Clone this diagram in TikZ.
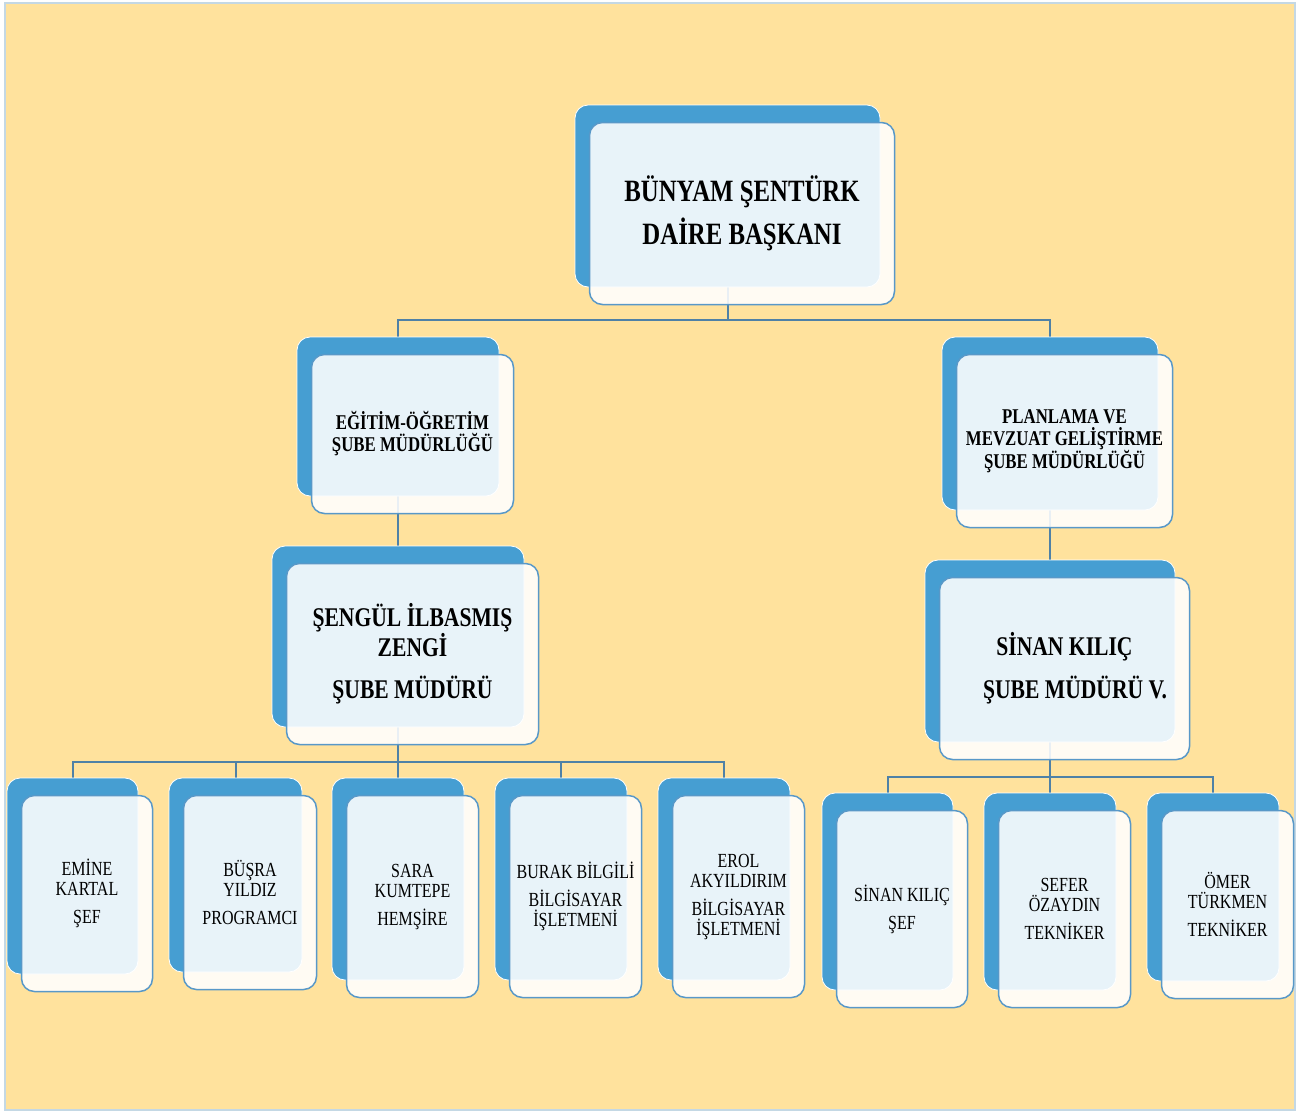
\documentclass[tikz,border=0pt]{standalone}
\usepackage{fontspec}
\setmainfont{Liberation Serif}[FakeStretch=0.8]
\definecolor{paperfill}{RGB}{255,226,157}
\definecolor{paperedge}{RGB}{196,216,228}
\definecolor{boxblue}{RGB}{70,158,210}
\definecolor{frontedge}{RGB}{88,152,200}
\definecolor{wirecol}{RGB}{79,129,166}
\pgfdeclarelayer{paper}
\pgfdeclarelayer{wires}
\pgfsetlayers{paper,wires,main}
\tikzset{
  backbox/.style={rounded corners=13pt, fill=boxblue, draw=white, line width=0.8pt, inner sep=0pt, outer sep=0pt},
  frontbox/.style={rounded corners=13pt, fill=white, fill opacity=0.88, text opacity=1, draw=frontedge, draw opacity=1, line width=1.5pt, inner sep=0pt, outer sep=0pt, align=center, text=black},
  wire/.style={draw=wirecol, line width=2pt},
  topfont/.style={font=\fontsize{31}{43}\selectfont\bfseries},
  midfont/.style={font=\fontsize{21}{22}\selectfont\bfseries},
  bigfont/.style={font=\fontsize{27}{28}\selectfont\bfseries},
  smallfont/.style={font=\fontsize{20}{20}\selectfont}
}
\newcommand\orgbox[7]{%
  \node[backbox, minimum width=#4pt, minimum height=#5pt] (#1) at (#2,#3) {};
  \node[frontbox, minimum width=#4pt, minimum height=#5pt, #6] (#1-f) at ([xshift=14.5pt,yshift=-17.5pt]#1.center) {#7};%
}
\begin{document}
\begin{tikzpicture}[x=1pt,y=-1pt]
\useasboundingbox (0,0) rectangle (1311,1112);
\begin{pgfonlayer}{paper}
  \fill[white] (0,0) rectangle (1311,1112);
  \draw[fill=paperfill, draw=paperedge, line width=1.5pt] (5,3) rectangle (1295,1110);
\end{pgfonlayer}

\orgbox{top}{727.5}{196}{305}{182}{topfont}{BÜNYAM ŞENTÜRK\\DAİRE BAŞKANI}
\orgbox{edu}{398}{416.5}{202}{159}{midfont}{EĞİTİM-ÖĞRETİM\\ŞUBE MÜDÜRLÜĞÜ}
\orgbox{plan}{1050}{423.5}{216}{173}{midfont}{PLANLAMA VE\\MEVZUAT GELİŞTİRME\\ŞUBE MÜDÜRLÜĞÜ}
\orgbox{sengul}{398}{636.5}{252}{181}{bigfont}{ŞENGÜL İLBASMIŞ\\ZENGİ\\[14pt]ŞUBE MÜDÜRÜ}
\orgbox{sinan}{1050}{651}{250}{182}{bigfont}{SİNAN KILIÇ\hspace{15pt}\\[14pt]\hspace{21pt}ŞUBE MÜDÜRÜ V.}

\orgbox{emine}{72.5}{876}{131}{196}{smallfont}{EMİNE\\KARTAL\\[8pt]ŞEF}
\orgbox{busra}{235.5}{875}{133}{194}{smallfont}{BÜŞRA\\YILDIZ\\[8pt]PROGRAMCI}
\orgbox{sara}{398}{879}{132}{202}{smallfont}{SARA\\KUMTEPE\\[8pt]HEMŞİRE}
\orgbox{burak}{561}{879}{132}{202}{smallfont}{BURAK BİLGİLİ\\[8pt]BİLGİSAYAR\\İŞLETMENİ}
\orgbox{erol}{724}{879}{132}{202}{smallfont}{EROL\\AKYILDIRIM\\[8pt]BİLGİSAYAR\\İŞLETMENİ}

\orgbox{sinansef}{887.5}{891.5}{131}{197}{smallfont}{SİNAN KILIÇ\\[8pt]ŞEF}
\orgbox{sefer}{1050}{891.5}{132}{197}{smallfont}{SEFER\\ÖZAYDIN\\[8pt]TEKNİKER}
\orgbox{omer}{1213}{887}{132}{188}{smallfont}{ÖMER\\TÜRKMEN\\[8pt]TEKNİKER}

\begin{pgfonlayer}{wires}
  \draw[wire] (top.south) -- ++(0,33) coordinate (busA) -| (edu.north);
  \draw[wire] (busA) -| (plan.north);
  \draw[wire] (edu.south) -- (sengul.north);
  \draw[wire] (plan.south) -- (sinan.north);
  \draw[wire] (sengul.south) -- ++(0,35) coordinate (busB) -| (emine.north);
  \draw[wire] (busB) -| (busra.north);
  \draw[wire] (busB) -- (sara.north);
  \draw[wire] (busB) -| (burak.north);
  \draw[wire] (busB) -| (erol.north);
  \draw[wire] (sinan.south) -- ++(0,35) coordinate (busC) -| (sinansef.north);
  \draw[wire] (busC) -- (sefer.north);
  \draw[wire] (busC) -| (omer.north);
\end{pgfonlayer}
\end{tikzpicture}
\end{document}
